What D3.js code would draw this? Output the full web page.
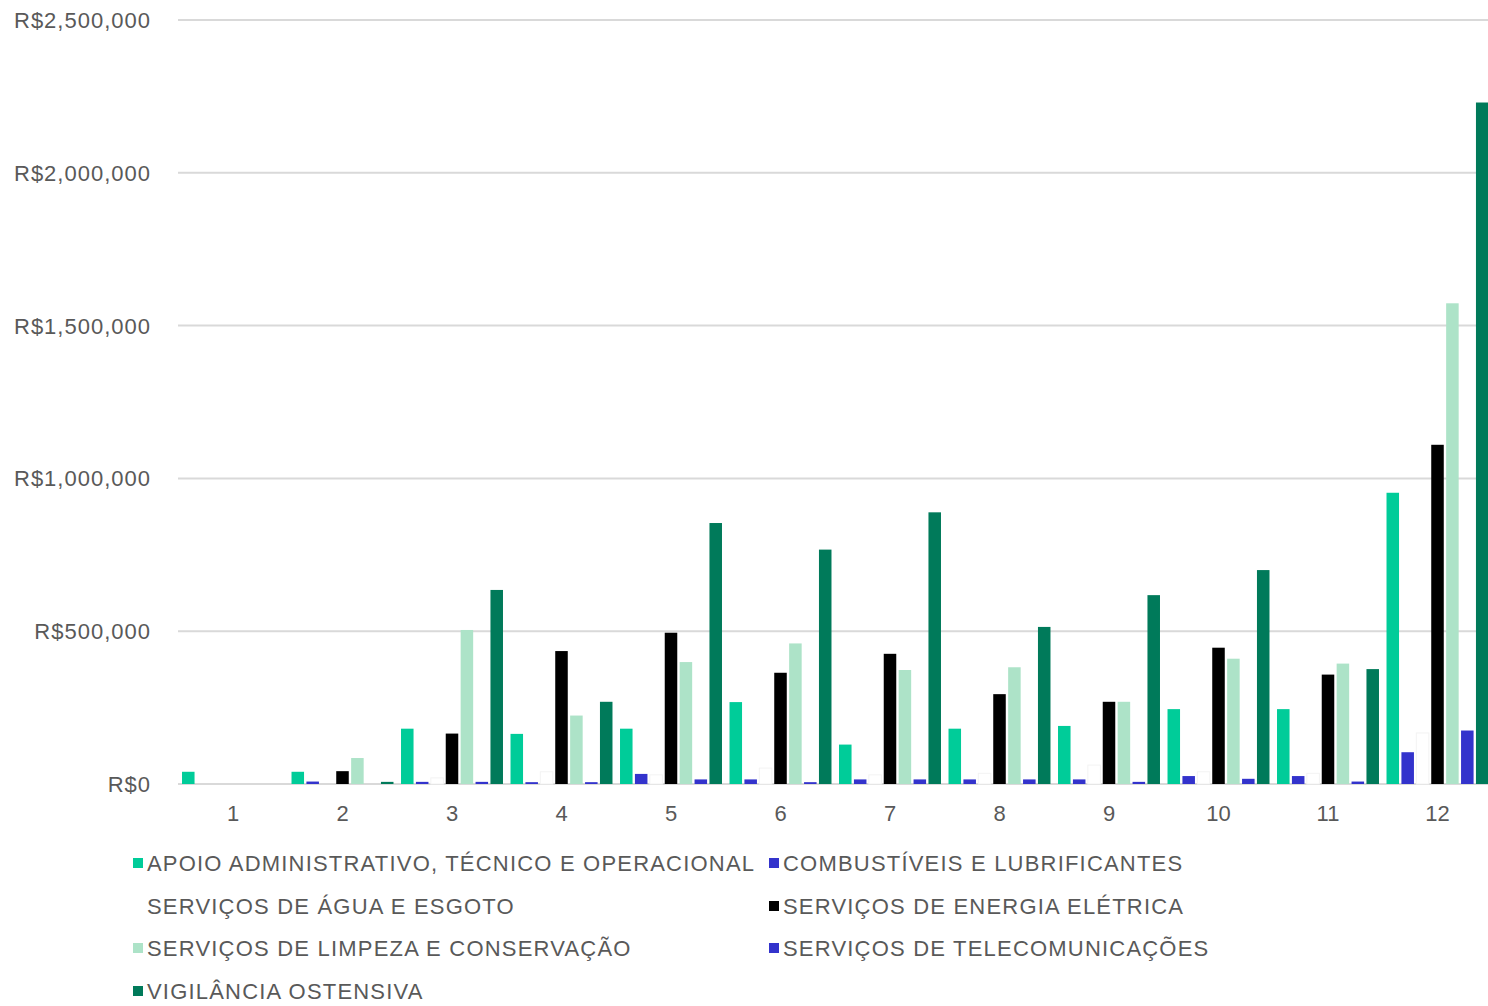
<!DOCTYPE html>
<html>
<head>
<meta charset="utf-8">
<script src="https://cdn.jsdelivr.net/npm/d3@7"></script>
<style>
  body { margin: 0; background: #fff; }
  text { font-family: "Liberation Sans", Arial, sans-serif; fill: #595959; }
</style>
</head>
<body>
<div id="chart"></div>
<script>
// chart data
var categories = ["1","2","3","4","5","6","7","8","9","10","11","12"];
var seriesNames = [
  "APOIO ADMINISTRATIVO, TÉCNICO E OPERACIONAL",
  "COMBUSTÍVEIS E LUBRIFICANTES",
  "SERVIÇOS DE ÁGUA E ESGOTO",
  "SERVIÇOS DE ENERGIA ELÉTRICA",
  "SERVIÇOS DE LIMPEZA E CONSERVAÇÃO",
  "SERVIÇOS DE TELECOMUNICAÇÕES",
  "VIGILÂNCIA OSTENSIVA"
];
var apoio    = [40000, 40000, 181000, 164000, 181000, 268000, 129000, 181000, 190000, 245000, 245000, 953000];
var combust  = [0, 8000, 7000, 6000, 33000, 15000, 15000, 15000, 15000, 26000, 26000, 104000];
var agua     = [0, 0, 20000, 40000, 30000, 52000, 30000, 35000, 62000, 40000, 35000, 167000];
var energia  = [0, 42000, 165000, 435000, 495000, 364000, 426000, 294000, 269000, 446000, 358000, 1110000];
var limpeza  = [0, 85000, 504000, 224000, 399000, 460000, 373000, 382000, 269000, 410000, 394000, 1573000];
var telecom  = [0, 0, 7000, 6000, 15000, 6000, 15000, 15000, 7000, 17000, 8000, 175000];
var vigilancia = [0, 7000, 635000, 269000, 854000, 767000, 889000, 514000, 618000, 700000, 376000, 2230000];
var yTicks = [0, 500000, 1000000, 1500000, 2000000, 2500000];
var colors = ["#00cc99", "#3333cc", "#ffffff", "#000000", "#ade3c8", "#3333cc", "#007a5a"];

var seriesValues = [apoio, combust, agua, energia, limpeza, telecom, vigilancia];

var W = 1488, H = 1006;
var svg = d3.select("#chart").append("svg")
  .attr("width", W).attr("height", H);

var x0 = d3.scaleBand()
  .domain(categories)
  .range([178.25, 1492.25])
  .paddingInner(0.047)
  .paddingOuter(0.0235);

var x1 = d3.scaleBand()
  .domain(d3.range(seriesNames.length))
  .range([0, x0.bandwidth()])
  .paddingInner(0.16)
  .paddingOuter(0.08);

var y = d3.scaleLinear()
  .domain([0, 2500000])
  .range([784, 20]);

// gridlines
svg.append("g").selectAll("line")
  .data(yTicks)
  .enter().append("line")
  .attr("x1", 178).attr("x2", W)
  .attr("y1", function(d){ return y(d); })
  .attr("y2", function(d){ return y(d); })
  .attr("stroke", "#d9d9d9")
  .attr("stroke-width", 2);

// y tick labels
svg.append("g").selectAll("text")
  .data(yTicks)
  .enter().append("text")
  .attr("x", 151)
  .attr("y", function(d){ return y(d) + 8; })
  .attr("text-anchor", "end")
  .style("font-size", "22px")
  .style("letter-spacing", "1px")
  .text(function(d){ return "R$" + d3.format(",")(d); });

// bars
var groups = svg.append("g").selectAll("g")
  .data(categories)
  .enter().append("g")
  .attr("transform", function(d){ return "translate(" + x0(d) + ",0)"; });

groups.selectAll("rect")
  .data(function(d, i){
    return seriesValues.map(function(vals, s){ return {s: s, v: vals[i]}; });
  })
  .enter().append("rect")
  .attr("x", function(d){ return x1(d.s); })
  .attr("width", x1.bandwidth())
  .attr("y", function(d){ return y(d.v); })
  .attr("height", function(d){ return y(0) - y(d.v); })
  .attr("fill", function(d){ return colors[d.s]; })
  .attr("stroke", function(d){ return d.s == 2 ? "#f3f3f3" : "none"; })
  .attr("stroke-width", 1);

// x tick labels
svg.append("g").selectAll("text")
  .data(categories)
  .enter().append("text")
  .attr("x", function(d){ return x0(d) + x0.bandwidth() / 2; })
  .attr("y", 821)
  .attr("text-anchor", "middle")
  .style("font-size", "22px")
  .text(function(d){ return d; });

// legend
var legendPos = [
  [133, 863], [769, 863],
  [133, 906], [769, 906],
  [133, 948], [769, 948],
  [133, 991]
];
var legend = svg.append("g").selectAll("g")
  .data(seriesNames)
  .enter().append("g")
  .attr("transform", function(d, i){ return "translate(" + legendPos[i][0] + "," + legendPos[i][1] + ")"; });

legend.append("rect")
  .attr("x", 0).attr("y", -5)
  .attr("width", 10).attr("height", 10)
  .attr("fill", function(d, i){ return colors[i]; });

legend.append("text")
  .attr("x", 14)
  .attr("y", 8)
  .style("font-size", "22px")
  .style("letter-spacing", "1.2px")
  .text(function(d){ return d; });
</script>
</body>
</html>
